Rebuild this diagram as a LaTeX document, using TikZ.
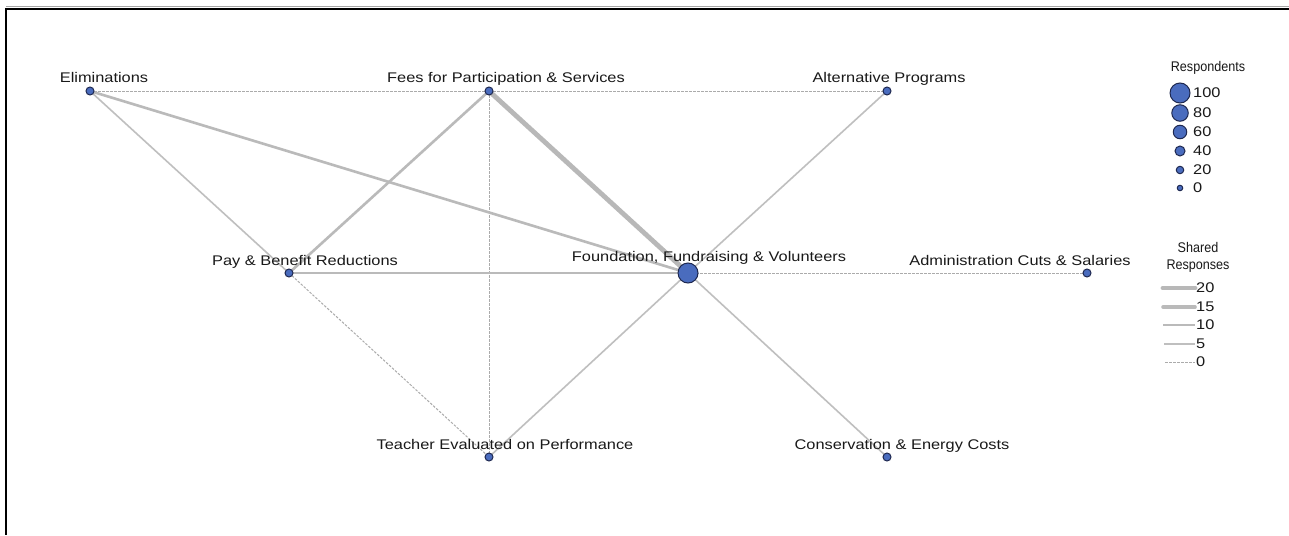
\documentclass[tikz,border=0pt]{standalone}
\usepackage{fontspec}
\setmainfont{Liberation Sans}[FakeStretch=1.17]
\newfontfamily\ttlfont{Liberation Sans}[FakeStretch=0.9]
\begin{document}
\begin{tikzpicture}[x=1pt,y=-1pt,
  vnode/.style={circle,draw=nodeline,fill=nodefill,line width=1pt,inner sep=0pt,minimum size=#1},
  vnode/.default=8pt,
  lab/.style={anchor=base,inner sep=0pt,font=\fontsize{14}{16}\selectfont,text=black!90},
  ttl/.style={anchor=base,inner sep=0pt,font=\ttlfont\fontsize{14}{16}\selectfont,text=black!90},
  e0/.style={draw=black!33,line width=1pt,dash pattern=on 2.5pt off 1.5pt},
  e5/.style={draw=black!25,line width=1.6pt},
  e10/.style={draw=black!27,line width=2.6pt},
  e15/.style={draw=black!27,line width=3.6pt},
  e20/.style={draw=black!28,line width=4.8pt}]
\definecolor{nodefill}{RGB}{74,108,190}
\definecolor{nodeline}{RGB}{30,40,80}
\useasboundingbox (0,0) rectangle (1289,535);
\fill[white] (0,0) rectangle (1289,535);
% frame
\draw[black!35,line width=1pt] (6,7) -- (1289,7);
\draw[black,line width=2pt] (1289,9) -- (6,9) -- (6,535);
% node coordinates
\coordinate (pE) at (90,91);
\coordinate (pF) at (489,91);
\coordinate (pA) at (887,91);
\coordinate (pP) at (289,273);
\coordinate (pO) at (688,273);
\coordinate (pD) at (1087,273);
\coordinate (pT) at (489,457);
\coordinate (pC) at (887,457);
% edges
\draw[e0] (pE) -- (pF);
\draw[e0] (pF) -- (pA);
\draw[e0] (pF) -- (pT);
\draw[e0] (pO) -- (pD);
\draw[e0] (pP) -- (pT);
\draw[e5] (pE) -- (pP);
\draw[e5] (pA) -- (pO);
\draw[e5] (pO) -- (pT);
\draw[e5] (pO) -- (pC);
\draw[e10] (pE) -- (pO);
\draw[e10] (pF) -- (pP);
\draw[e10] (pP) -- (pO);
\draw[e20] (pF) -- (pO);
% nodes
\node[vnode] (E) at (pE) {};
\node[vnode] (F) at (pF) {};
\node[vnode] (A) at (pA) {};
\node[vnode] (P) at (pP) {};
\node[vnode=20pt] (O) at (pO) {};
\node[vnode] (D) at (pD) {};
\node[vnode] (T) at (pT) {};
\node[vnode] (C) at (pC) {};
% labels
\node[lab] (lE) at (104,82) {Eliminations};
\node[lab] (lF) at (506,82) {Fees for Participation \& Services};
\node[lab] (lA) at (889,82) {Alternative Programs};
\node[lab] (lP) at (305,265) {Pay \& Benefit Reductions};
\node[lab] (lO) at (709,261) {Foundation, Fundraising \& Volunteers};
\node[lab] (lD) at (1020,265) {Administration Cuts \& Salaries};
\node[lab] (lT) at (505,449) {Teacher Evaluated on Performance};
\node[lab] (lC) at (902,449) {Conservation \& Energy Costs};
% legend respondents
\node[ttl] (rt) at (1208,71) {Respondents};
\node[vnode=20pt] (r100) at (1180,93) {};
\node[vnode=16.5pt] (r80) at (1180,113) {};
\node[vnode=13.5pt] (r60) at (1180,132) {};
\node[vnode=10pt] (r40) at (1180,151) {};
\node[vnode=7.5pt] (r20) at (1180,170) {};
\node[vnode=5.5pt] (r0) at (1180,188) {};
\node[lab,anchor=west] at (1193,93) {100};
\node[lab,anchor=west] at (1193,113) {80};
\node[lab,anchor=west] at (1193,132) {60};
\node[lab,anchor=west] at (1193,151) {40};
\node[lab,anchor=west] at (1193,170) {20};
\node[lab,anchor=west] at (1193,188) {0};
% legend shared responses
\node[ttl] (st1) at (1198,252) {Shared};
\node[ttl] (st2) at (1198,269) {Responses};
\coordinate (s20a) at (1163,288); \coordinate (s20b) at (1195,288);
\coordinate (s15a) at (1163,307); \coordinate (s15b) at (1195,307);
\coordinate (s10a) at (1163,325); \coordinate (s10b) at (1195,325);
\coordinate (s5a) at (1164,344); \coordinate (s5b) at (1195,344);
\coordinate (s0a) at (1165,362); \coordinate (s0b) at (1195,362);
\draw[e20,line cap=round] (s20a) -- (s20b);
\draw[e15,line cap=round] (s15a) -- (s15b);
\draw[e10] (s10a) -- (s10b);
\draw[e5] (s5a) -- (s5b);
\draw[e0] (s0a) -- (s0b);
\node[lab,anchor=west] at (1196,288) {20};
\node[lab,anchor=west] at (1196,307) {15};
\node[lab,anchor=west] at (1196,325) {10};
\node[lab,anchor=west] at (1196,344) {5};
\node[lab,anchor=west] at (1196,362) {0};
\end{tikzpicture}
\end{document}
